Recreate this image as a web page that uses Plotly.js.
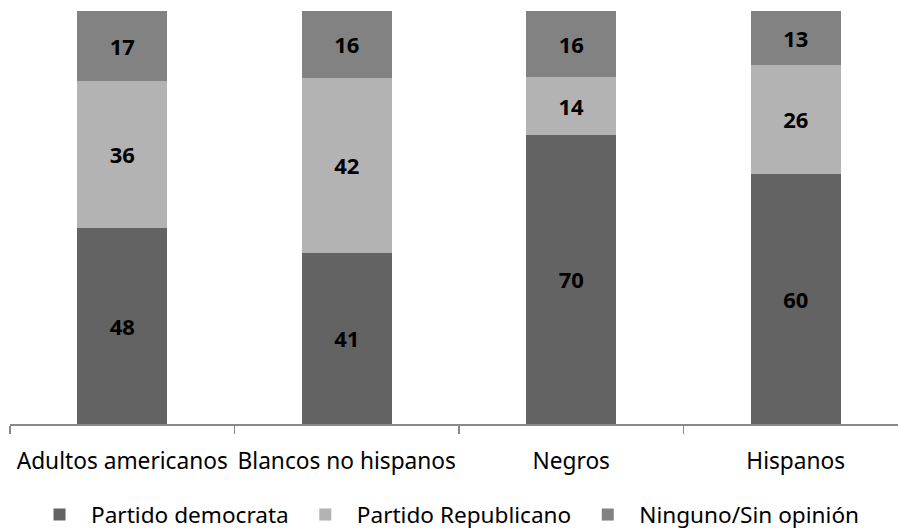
<!DOCTYPE html>
<html>
<head>
<meta charset="utf-8">
<script src="https://cdn.plot.ly/plotly-3.0.1.min.js"></script>
<style>html,body{margin:0;padding:0;background:#fff;}#chart{width:898px;height:531px;}</style>
</head>
<body>
<div id="chart"></div>
<script>
const categories = ["Adultos americanos", "Blancos no hispanos", "Negros", "Hispanos"];
const seriesNames = ["Partido democrata", "Partido Republicano", "Ninguno/Sin opinión"];
const democrata = [48, 41, 70, 60];
const republicano = [36, 42, 14, 26];
const ninguno = [17, 16, 16, 13];
const colors = ["#636363", "#b3b3b3", "#828282"];

const FONT = "Noto Sans, Open Sans, sans-serif";
const series = [democrata, republicano, ninguno];
const data = series.map((vals, i) => ({
  type: "bar",
  name: seriesNames[i],
  x: categories,
  y: vals,
  text: vals.map(String),
  texttemplate: "%{text}",
  textposition: "inside",
  insidetextanchor: "middle",
  textangle: 0,
  constraintext: "none",
  textfont: {family: FONT, size: 22, color: "#000", weight: "bold"},
  marker: {color: colors[i], line: {width: 0}},
  hoverinfo: "none"
}));

const layout = {
  width: 898, height: 531,
  margin: {l: 10, r: 0, t: 11, b: 107, autoexpand: false},
  barmode: "stack",
  barnorm: "percent",
  bargap: 0.6,
  paper_bgcolor: "#fff",
  plot_bgcolor: "#fff",
  font: {family: FONT, size: 22.6, color: "#000"},
  showlegend: true,
  legend: {
    orientation: "h",
    x: 0.0203, xanchor: "left",
    y: -0.220, yanchor: "middle",
    itemwidth: 53,
    font: {family: FONT, size: 22.6, color: "#000"},
    traceorder: "normal",
    itemclick: false, itemdoubleclick: false
  },
  xaxis: {
    type: "category",
    range: [-0.5, 3.4555],
    showline: true, linecolor: "#898989", linewidth: 1.5,
    ticks: "outside", tickson: "boundaries", ticklen: 8, tickcolor: "#898989", tickwidth: 1.5,
    tickangle: 0,
    ticklabelstandoff: 16,
    showgrid: false, zeroline: false,
    tickfont: {family: FONT, size: 22.7, color: "#000"},
    fixedrange: true
  },
  yaxis: {
    range: [0, 100],
    visible: false,
    showgrid: false, zeroline: false,
    fixedrange: true
  }
};

Plotly.newPlot("chart", data, layout, {displayModeBar: false, staticPlot: true});
</script>
</body>
</html>
